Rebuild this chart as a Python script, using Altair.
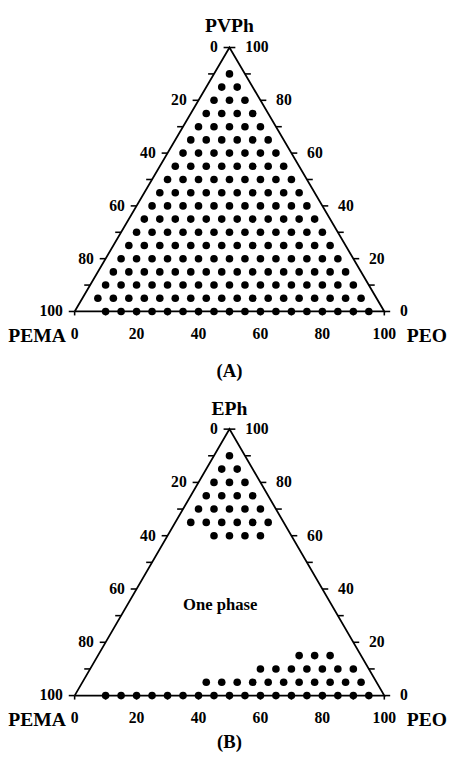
import math
import altair as alt
import pandas as pd

# ---------------- data (5 % grid) ----------------
# Panel (A): PVPh / PEMA / PEO  -- each dot row: PVPh level, first and last PEO value
A_pvph      = [0, 5, 10, 15, 20, 25, 30, 35, 40, 45, 50, 55, 60, 65, 70, 75, 80, 85, 90]
A_peo_first = [10, 5, 5, 5, 5, 5, 5, 5, 5, 5, 5, 5, 5, 5, 5, 5, 5, 5, 5]
A_peo_last  = [95, 90, 85, 80, 75, 70, 65, 60, 55, 50, 45, 40, 35, 30, 25, 20, 15, 10, 5]

# Panel (B): EPh / PEMA / PEO
B_eph       = [0, 5, 10, 15, 60, 65, 70, 75, 80, 85, 90]
B_peo_first = [10, 40, 55, 65, 15, 5, 5, 5, 5, 5, 5]
B_peo_last  = [95, 90, 85, 75, 30, 30, 25, 20, 15, 10, 5]

tick_values  = [0, 10, 20, 30, 40, 50, 60, 70, 80, 90, 100]
label_values = [0, 20, 40, 60, 80, 100]

H = math.sqrt(3) / 2
FONT = "Liberation Serif"


def expand(top, first, last):
    rows = []
    for t, a, b in zip(top, first, last):
        for peo in range(a, b + 1, 5):
            rows.append({"PEO": peo, "TOP": t})
    return pd.DataFrame(rows)


def tern(chart):
    return chart.transform_calculate(
        x="datum.PEO + datum.TOP / 2", y=f"datum.TOP * {H}"
    )


def panel(top_name, tag, top, first, last, height, ydom, name_dy, tag_dy, note=None):
    X = alt.Scale(domain=[-21.52, 117.72], nice=False, zero=False)
    Y = alt.Scale(domain=ydom, nice=False, zero=False)
    xe = lambda f="x": alt.X(f"{f}:Q", scale=X, axis=None)
    ye = lambda f="y": alt.Y(f"{f}:Q", scale=Y, axis=None)

    outline = pd.DataFrame({"PEO": [0, 100, 0, 0], "TOP": [0, 0, 100, 0], "o": [0, 1, 2, 3]})
    tri = tern(alt.Chart(outline)).mark_line(color="black", strokeWidth=1.8).encode(
        x=xe(), y=ye(), order="o:O"
    )

    tv = pd.DataFrame({"v": tick_values})
    tl = alt.Chart(tv).transform_calculate(
        x="(100 - datum.v) / 2", x2="(100 - datum.v) / 2 - 1.9", y=f"(100 - datum.v) * {H}"
    ).mark_rule(color="black", strokeWidth=1.6).encode(x=xe(), x2="x2:Q", y=ye())
    tr = alt.Chart(tv).transform_calculate(
        x="100 - datum.v / 2", x2="100 - datum.v / 2 + 1.9", y=f"datum.v * {H}"
    ).mark_rule(color="black", strokeWidth=1.6).encode(x=xe(), x2="x2:Q", y=ye())
    tb = alt.Chart(tv).transform_calculate(
        x="datum.v", y="0", y2="-1.3"
    ).mark_rule(color="black", strokeWidth=1.6).encode(x=xe(), y=ye(), y2="y2:Q")

    lv = pd.DataFrame({"v": label_values, "t": [str(v) for v in label_values]})
    txt = dict(font=FONT, fontWeight="bold", fontSize=16, color="black", baseline="middle")
    ll = alt.Chart(lv).transform_calculate(
        x="(100 - datum.v) / 2", y=f"(100 - datum.v) * {H}"
    ).mark_text(align="right", dx=-12, **txt).encode(x=xe(), y=ye(), text="t:N")
    lr = alt.Chart(lv).transform_calculate(
        x="100 - datum.v / 2", y=f"datum.v * {H}"
    ).mark_text(align="left", dx=16, **txt).encode(x=xe(), y=ye(), text="t:N")
    lb = alt.Chart(lv).transform_calculate(
        x="datum.v", y="0"
    ).mark_text(align="center", dy=23, **txt).encode(x=xe(), y=ye(), text="t:N")

    big = dict(font=FONT, fontWeight="bold", fontSize=20, color="black", baseline="middle")
    nm_left = pd.DataFrame({"PEO": [0], "TOP": [0], "t": ["PEMA"]})
    nm_right = pd.DataFrame({"PEO": [100], "TOP": [0], "t": ["PEO"]})
    nm_top = pd.DataFrame({"PEO": [0], "TOP": [100], "t": [top_name]})
    nm_tag = pd.DataFrame({"PEO": [50], "TOP": [0], "t": [tag]})
    n1 = tern(alt.Chart(nm_left)).mark_text(align="right", dx=-9, dy=25, **big).encode(
        x=xe(), y=ye(), text="t:N")
    n2 = tern(alt.Chart(nm_right)).mark_text(align="left", dx=23, dy=25, **big).encode(
        x=xe(), y=ye(), text="t:N")
    n3 = tern(alt.Chart(nm_top)).mark_text(align="center", dy=name_dy, **big).encode(
        x=xe(), y=ye(), text="t:N")
    n4 = tern(alt.Chart(nm_tag)).mark_text(
        align="center", dy=tag_dy, font=FONT, fontWeight="bold", fontSize=19,
        color="black", baseline="middle").encode(x=xe(), y=ye(), text="t:N")

    dots = tern(alt.Chart(expand(top, first, last))).mark_circle(
        size=60, color="black", opacity=1).encode(x=xe(), y=ye())

    layers = [tri, tl, tr, tb, ll, lr, lb, n1, n2, n3, n4, dots]
    if note is not None:
        nt = tern(alt.Chart(pd.DataFrame(note))).mark_text(
            align="center", font=FONT, fontWeight="bold", fontSize=17,
            color="black", baseline="middle").encode(x=xe(), y=ye(), text="t:N")
        layers.append(nt)
    return alt.layer(*layers).properties(width=440, height=height)


pa = panel("PVPh", "(A)", A_pvph, A_peo_first, A_peo_last, 380, [-25.08, 97.1], -22, 61)
pb = panel("EPh", "(B)", B_eph, B_peo_first, B_peo_last, 362, [-15.3, 100.0], -20, 47,
           note={"PEO": [30], "TOP": [34], "t": ["One phase"]})

chart = alt.vconcat(pa, pb, spacing=0).properties(padding=0).configure_view(stroke=None)
chart.save("out.html", embed_options={"renderer": "svg", "actions": False})
